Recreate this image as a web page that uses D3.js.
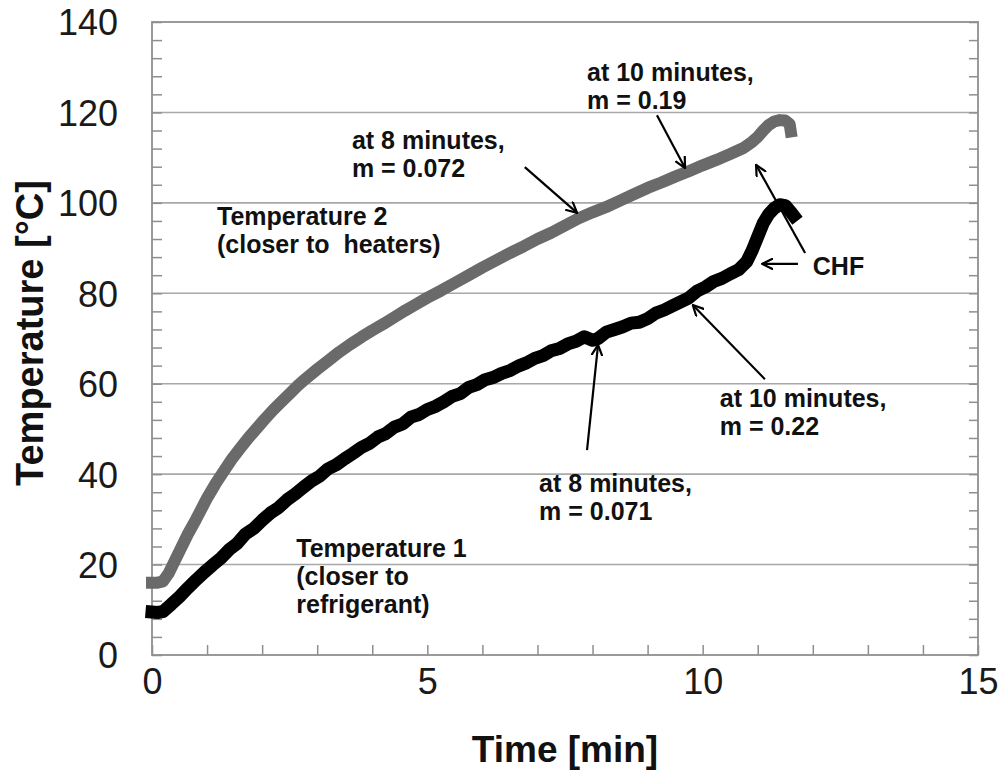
<!DOCTYPE html>
<html>
<head>
<meta charset="utf-8">
<script src="https://cdn.jsdelivr.net/npm/d3@7"></script>
<style>
  html, body { margin: 0; padding: 0; background: #fff; }
  svg { display: block; }
  text { font-family: Arial, "Liberation Sans", Helvetica, sans-serif; }
</style>
</head>
<body>
<svg id="chart" width="1001" height="772"></svg>
<script>
// Temperature 1 (closer to refrigerant): time [min] and temperature [°C]
const t1Time = [0, 0.1, 0.2, 0.35, 0.5, 0.65, 0.8, 0.95, 1.1, 1.25, 1.4, 1.55, 1.7, 1.85,
  2.0, 2.15, 2.3, 2.45, 2.6, 2.75, 2.9, 3.05, 3.2, 3.35, 3.5, 3.65, 3.8, 3.95, 4.1, 4.25,
  4.4, 4.55, 4.7, 4.85, 5.0, 5.15, 5.3, 5.45, 5.6, 5.75, 5.9, 6.05, 6.2, 6.35, 6.5, 6.65,
  6.8, 6.95, 7.1, 7.25, 7.4, 7.55, 7.7, 7.85, 8.0, 8.1, 8.25, 8.4, 8.55, 8.7, 8.85, 9.0,
  9.15, 9.3, 9.45, 9.6, 9.75, 9.9, 10.05, 10.2, 10.35, 10.5, 10.65, 10.8, 10.9, 11.0,
  11.1, 11.2, 11.3, 11.4, 11.5, 11.6, 11.65];
const t1Temp = [9.5, 9.4, 9.6, 11.2, 12.9, 14.8, 16.6, 18.3, 19.9, 21.4, 23.3, 24.7, 26.8, 28.0,
  29.8, 31.4, 32.6, 34.3, 35.6, 37.1, 38.5, 39.6, 41.2, 42.1, 43.4, 44.6, 45.9, 46.8, 48.2, 49.0,
  50.4, 51.1, 52.6, 53.2, 54.3, 55.0, 56.0, 57.2, 57.8, 59.2, 59.8, 60.9, 61.4, 62.3, 62.9, 63.9,
  64.6, 65.6, 66.2, 67.3, 67.8, 68.8, 69.4, 70.4, 69.6, 70.0, 71.4, 72.0, 72.6, 73.4, 73.6, 74.4,
  75.6, 76.3, 77.2, 78.1, 79.0, 80.5, 81.4, 82.6, 83.3, 84.3, 85.2, 87.0, 89.5, 92.5,
  95.5, 97.5, 98.8, 99.6, 99.4, 98.0, 97.2];

// Temperature 2 (closer to heaters): time [min] and temperature [°C]
const t2Time = [0, 0.1, 0.2, 0.3, 0.4, 0.5, 0.65, 0.8, 1.0, 1.15, 1.3, 1.45, 1.6, 1.75, 1.9,
  2.05, 2.2, 2.35, 2.5, 2.65, 2.8, 3.0, 3.2, 3.4, 3.6, 3.8, 4.0, 4.2, 4.4, 4.6, 4.8, 5.0,
  5.25, 5.5, 5.75, 6.0, 6.25, 6.5, 6.75, 7.0, 7.25, 7.5, 7.75, 8.0, 8.25, 8.5, 8.75, 9.0,
  9.25, 9.5, 9.75, 10.0, 10.25, 10.5, 10.75, 10.9, 11.0, 11.1, 11.2, 11.3, 11.4, 11.5,
  11.58, 11.6];
const t2Temp = [16.0, 16.0, 16.3, 18.0, 20.5, 23.0, 26.7, 30.0, 34.7, 37.8, 40.6, 43.3, 45.7, 48.0, 50.1,
  52.2, 54.2, 56.0, 57.8, 59.6, 61.2, 63.2, 65.1, 67.0, 68.7, 70.3, 71.8, 73.2, 74.7, 76.2, 77.6, 79.0,
  80.6, 82.3, 84.0, 85.7, 87.3, 88.9, 90.4, 92.0, 93.4, 95.0, 96.6, 97.9, 99.1, 100.5, 101.9, 103.3,
  104.5, 105.8, 107.0, 108.3, 109.5, 110.8, 112.2, 113.5, 114.6, 116.0, 117.2, 118.0, 118.3, 118.2,
  117.4, 115.8];

// Axis ticks
const xTickValues = [0, 5, 10, 15];
const yTickValues = [0, 20, 40, 60, 80, 100, 120, 140];
const xMinorTicks = d3.range(0, 15.001, 1);
const yMinorTicks = d3.range(0, 140.001, 4);

// Text notes, anchored in data units (time, temperature) at the first line's baseline
const noteLines = [
  ["at 10 minutes,", "m = 0.19"],
  ["at 8 minutes,", "m = 0.072"],
  ["Temperature 2", "(closer to  heaters)"],
  ["CHF"],
  ["at 10 minutes,", "m = 0.22"],
  ["at 8 minutes,", "m = 0.071"],
  ["Temperature 1", "(closer to", "refrigerant)"]
];
const noteTime = [7.90, 3.63, 1.18, 12.0, 10.31, 7.03, 2.62];
const noteTemp = [127.0, 111.9, 95.1, 84.1, 54.9, 36.1, 21.7];

// Pointer arrows: tail and head in data units
const arrowFromTime = [6.77, 9.17, 11.86, 11.73, 7.90, 11.13];
const arrowFromTemp = [107.9, 119.4, 88.9, 86.5, 45.3, 61.0];
const arrowToTime = [7.72, 9.68, 10.97, 11.08, 8.10, 9.82];
const arrowToTemp = [97.8, 107.7, 108.4, 86.5, 68.6, 77.4];

const svg = d3.select("#chart");
const plotLeft = 152, plotRight = 978, plotTop = 22, plotBottom = 655;

const x = d3.scaleLinear().domain([0, 15]).range([plotLeft, plotRight]);
const y = d3.scaleLinear().domain([0, 140]).range([plotBottom, plotTop]);

const frameColor = "#8f8f8f";
const gridColor = "#a8a8a8";

// Horizontal gridlines
svg.append("g")
  .selectAll("line")
  .data(yTickValues.filter(v => v > 0 && v < 140))
  .join("line")
  .attr("x1", plotLeft).attr("x2", plotRight)
  .attr("y1", d => y(d)).attr("y2", d => y(d))
  .attr("stroke", gridColor).attr("stroke-width", 1.6);

// Minor ticks: left and right inward, bottom upward
svg.append("g").attr("transform", `translate(${plotLeft},0)`)
  .call(d3.axisRight(y).tickValues(yMinorTicks).tickSize(10).tickFormat(""))
  .call(g => g.select(".domain").remove())
  .call(g => g.selectAll(".tick line").attr("stroke", frameColor).attr("stroke-width", 1.5));

svg.append("g").attr("transform", `translate(${plotRight},0)`)
  .call(d3.axisLeft(y).tickValues(yMinorTicks).tickSize(9).tickFormat(""))
  .call(g => g.select(".domain").remove())
  .call(g => g.selectAll(".tick line").attr("stroke", frameColor).attr("stroke-width", 1.5));

svg.append("g").attr("transform", `translate(0,${plotBottom})`)
  .call(d3.axisTop(x).tickValues(xMinorTicks).tickSize(10).tickFormat(""))
  .call(g => g.select(".domain").remove())
  .call(g => g.selectAll(".tick line").attr("stroke", frameColor).attr("stroke-width", 1.5));

// Frame
svg.append("rect")
  .attr("x", plotLeft).attr("y", plotTop)
  .attr("width", plotRight - plotLeft).attr("height", plotBottom - plotTop)
  .attr("fill", "none").attr("stroke", frameColor).attr("stroke-width", 1.8);

// Tick labels
svg.append("g").attr("transform", `translate(${plotLeft},0)`)
  .call(d3.axisLeft(y).tickValues(yTickValues).tickSize(0).tickPadding(34).tickFormat(d3.format("d")))
  .call(g => g.select(".domain").remove())
  .call(g => g.selectAll("text")
    .attr("font-family", "Arial, 'Liberation Sans', sans-serif")
    .attr("font-size", 36).attr("fill", "#1a1a1a").attr("dy", "0.36em"));

svg.append("g").attr("transform", `translate(0,${plotBottom})`)
  .call(d3.axisBottom(x).tickValues(xTickValues).tickSize(0).tickPadding(39).tickFormat(d3.format("d")))
  .call(g => g.select(".domain").remove())
  .call(g => g.selectAll("text")
    .attr("font-family", "Arial, 'Liberation Sans', sans-serif")
    .attr("font-size", 36).attr("fill", "#1a1a1a").attr("dy", "0"));

// Axis titles
svg.append("text")
  .attr("x", (plotLeft + plotRight) / 2).attr("y", 762)
  .attr("text-anchor", "middle")
  .attr("font-size", 37).attr("font-weight", "bold").attr("fill", "#111")
  .text("Time [min]");

svg.append("text")
  .attr("transform", "translate(43,333) rotate(-90)")
  .attr("text-anchor", "middle")
  .attr("font-size", 38).attr("font-weight", "bold").attr("fill", "#111")
  .text("Temperature [°C]");

// Data series
const line = d3.line().x(d => x(d[0])).y(d => y(d[1]));

svg.append("path")
  .datum(t2Time.map((t, i) => [t, t2Temp[i]]))
  .attr("d", line)
  .attr("fill", "none").attr("stroke", "#6a6a6a")
  .attr("stroke-width", 12).attr("stroke-linejoin", "round").attr("stroke-linecap", "square");

svg.append("path")
  .datum(t1Time.map((t, i) => [t, t1Temp[i]]))
  .attr("d", line)
  .attr("fill", "none").attr("stroke", "#000")
  .attr("stroke-width", 13).attr("stroke-linejoin", "round").attr("stroke-linecap", "square");

// Arrowhead marker
svg.append("defs").append("marker")
  .attr("id", "head")
  .attr("viewBox", "0 -6 12 12")
  .attr("refX", 11).attr("refY", 0)
  .attr("markerWidth", 12).attr("markerHeight", 12)
  .attr("markerUnits", "userSpaceOnUse")
  .attr("orient", "auto")
  .append("path")
  .attr("d", "M0,-5.5L11,0L0,5.5")
  .attr("fill", "none").attr("stroke", "#000").attr("stroke-width", 2.2);

svg.append("g")
  .selectAll("line")
  .data(arrowFromTime.map((t, i) => i))
  .join("line")
  .attr("x1", i => x(arrowFromTime[i])).attr("y1", i => y(arrowFromTemp[i]))
  .attr("x2", i => x(arrowToTime[i])).attr("y2", i => y(arrowToTemp[i]))
  .attr("stroke", "#000").attr("stroke-width", 2.2)
  .attr("marker-end", "url(#head)");

// Notes
const notes = svg.append("g")
  .selectAll("text")
  .data(noteLines.map((l, i) => i))
  .join("text")
  .attr("x", i => x(noteTime[i]))
  .attr("y", i => y(noteTemp[i]))
  .attr("font-size", 25).attr("font-weight", "bold").attr("fill", "#111");

notes.each(function(i) {
  const el = d3.select(this);
  noteLines[i].forEach((s, k) => {
    el.append("tspan")
      .attr("x", x(noteTime[i]))
      .attr("dy", k === 0 ? 0 : 28)
      .style("white-space", "pre")
      .text(s);
  });
});
</script>
</body>
</html>
